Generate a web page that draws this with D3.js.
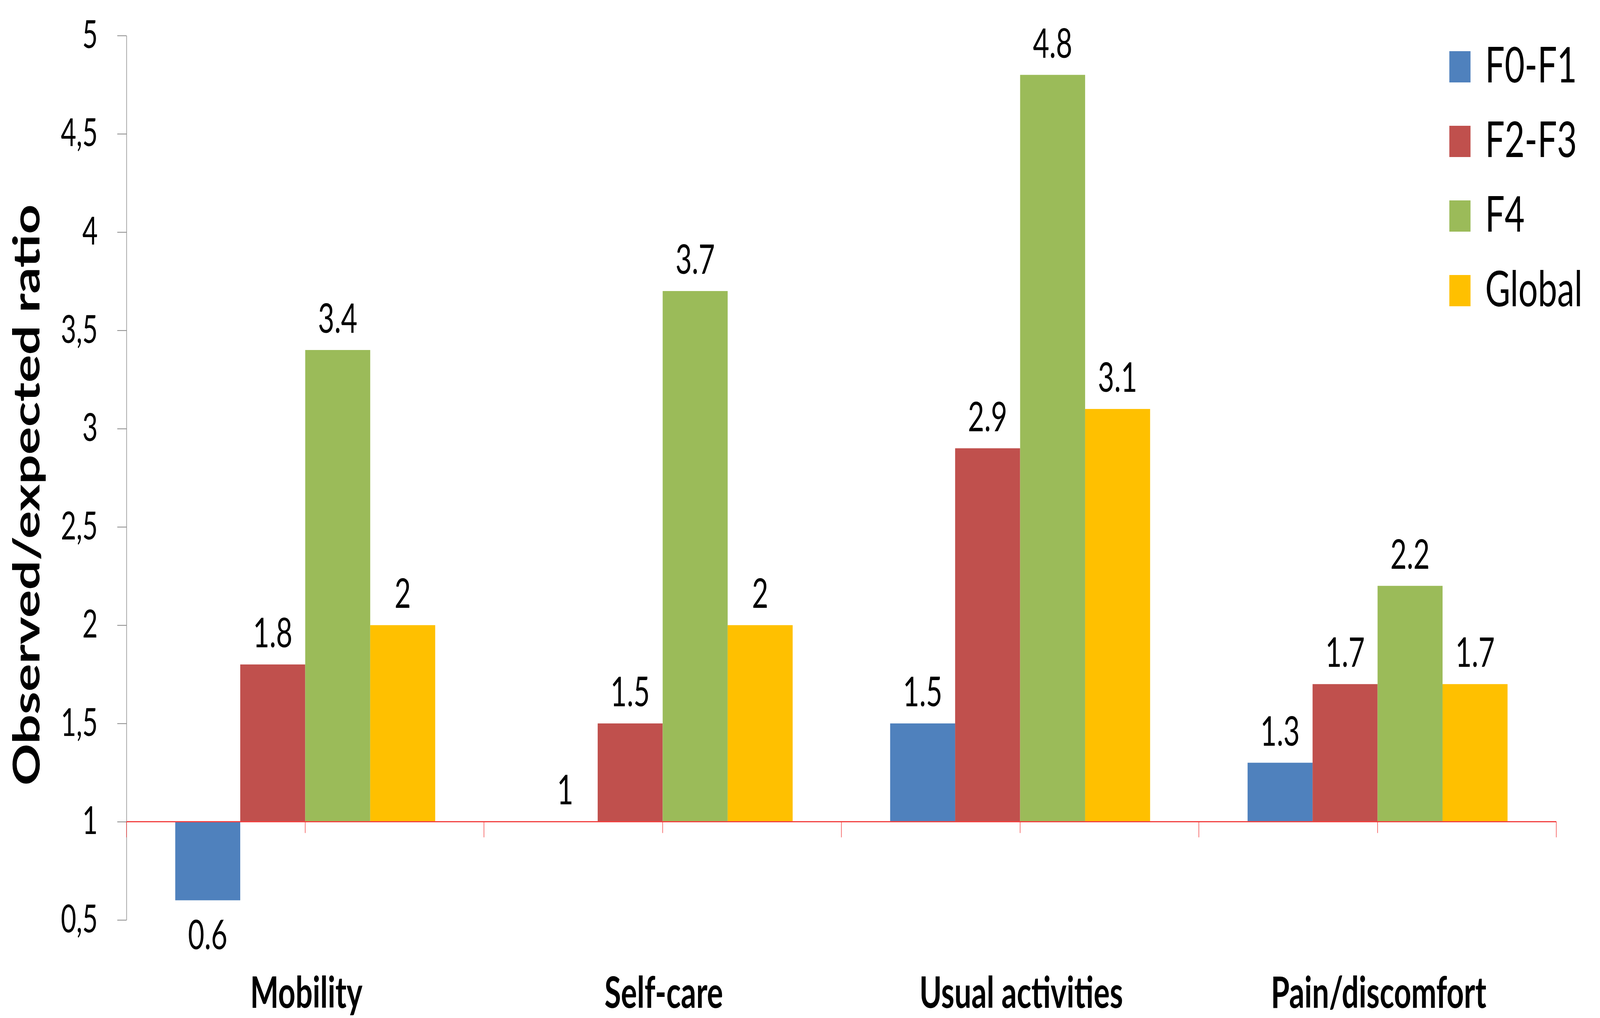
<!DOCTYPE html>
<html>
<head>
<meta charset="utf-8">
<script src="https://cdn.jsdelivr.net/npm/d3@7"></script>
<style>
  html, body { margin: 0; padding: 0; background: #fff; overflow: hidden; }
  svg { display: block; }
</style>
</head>
<body>
<div id="chart"></div>
<script>
// chart data
const categories = ["Mobility", "Self-care", "Usual activities", "Pain/discomfort"];
const seriesNames = ["F0-F1", "F2-F3", "F4", "Global"];
const seriesColors = ["#4F81BD", "#C0504D", "#9BBB59", "#FFC000"];
const f0f1 = [0.6, 1, 1.5, 1.3];
const f2f3 = [1.8, 1.5, 2.9, 1.7];
const f4 = [3.4, 3.7, 4.8, 2.2];
const globalVals = [2, 2, 3.1, 1.7];
const yTicks = [0.5, 1, 1.5, 2, 2.5, 3, 3.5, 4, 4.5, 5];
const yTickLabels = ["0,5", "1", "1,5", "2", "2,5", "3", "3,5", "4", "4,5", "5"];
const baseValue = 1;

const seriesValues = [f0f1, f2f3, f4, globalVals];
const fontFam = "Lato, 'Open Sans', sans-serif";

const W = 5894, H = 2606;
// drawn in a fixed 5894x2606 coordinate space, stretched to the window
const svg = d3.select("#chart").append("svg")
    .attr("viewBox", "0 0 " + W + " " + H)
    .attr("preserveAspectRatio", "none")
    .style("width", "100vw")
    .style("height", "100vh");

const plot = {left: 466, right: 5733, top: 91, bottom: 2355};

const x = d3.scaleBand().domain(categories).range([plot.left, plot.right]).padding(0);
const xSub = d3.scaleBand().domain(seriesNames).range([0, x.bandwidth()])
    .paddingInner(0).paddingOuter(0.75);
const y = d3.scaleLinear().domain([0.5, 5]).range([plot.bottom, plot.top]);

// y axis
const yAxis = svg.append("g")
    .attr("transform", "translate(" + plot.left + ",0)")
    .call(d3.axisLeft(y)
        .tickValues(yTicks)
        .tickFormat((d, i) => yTickLabels[i])
        .tickSize(34)
        .tickSizeOuter(0)
        .tickPadding(72));
yAxis.select(".domain").attr("stroke", "#868686").attr("stroke-width", 2);
yAxis.selectAll(".tick line").attr("stroke", "#868686").attr("stroke-width", 2);
yAxis.selectAll(".tick text")
    .attr("fill", "#000")
    .style("font-family", fontFam)
    .style("font-size", "98px");

// bars
const rows = [];
categories.forEach((c, ci) => {
    seriesNames.forEach((s, si) => {
        rows.push({cat: c, series: s, value: seriesValues[si][ci], color: seriesColors[si]});
    });
});

const bars = svg.append("g");
bars.selectAll("rect")
    .data(rows)
    .join("rect")
    .attr("x", d => x(d.cat) + xSub(d.series))
    .attr("width", xSub.bandwidth())
    .attr("y", d => y(Math.max(d.value, baseValue)))
    .attr("height", d => Math.abs(y(d.value) - y(baseValue)))
    .attr("fill", d => d.color);

// x axis at value 1 (red)
const yBase = y(baseValue);
const xAxis = svg.append("g");
xAxis.append("line")
    .attr("x1", plot.left).attr("x2", plot.right)
    .attr("y1", yBase).attr("y2", yBase)
    .attr("stroke", "#f24040").attr("stroke-width", 3);
const bounds = categories.map(c => x(c)).concat([plot.right]);
xAxis.selectAll(".bound")
    .data(bounds)
    .join("line")
    .attr("class", "bound")
    .attr("x1", d => d).attr("x2", d => d)
    .attr("y1", yBase).attr("y2", yBase + 40)
    .attr("stroke", "#f24040").attr("stroke-width", 2);
xAxis.selectAll(".mid")
    .data(categories)
    .join("line")
    .attr("class", "mid")
    .attr("x1", d => x(d) + x.bandwidth() / 2).attr("x2", d => x(d) + x.bandwidth() / 2)
    .attr("y1", yBase).attr("y2", yBase + 29)
    .attr("stroke", "#f24040").attr("stroke-width", 2);

// category labels
svg.append("g").selectAll("text")
    .data(categories)
    .join("text")
    .attr("x", d => x(d) + x.bandwidth() / 2 + 4)
    .attr("y", 2580)
    .attr("text-anchor", "middle")
    .style("font-family", fontFam)
    .style("font-weight", "bold")
    .style("font-size", "111px")
    .text(d => d);

// data labels
svg.append("g").selectAll("text")
    .data(rows)
    .join("text")
    .attr("x", d => x(d.cat) + xSub(d.series) + xSub.bandwidth() / 2)
    .attr("y", d => d.value < baseValue ? y(d.value) + 125 : y(d.value) - 44)
    .attr("text-anchor", "middle")
    .style("font-family", fontFam)
    .style("font-size", "104px")
    .text(d => String(d.value));

// y axis title
svg.append("text")
    .attr("transform", "translate(145,1267) rotate(-90)")
    .attr("text-anchor", "middle")
    .attr("textLength", 1488)
    .attr("lengthAdjust", "spacingAndGlyphs")
    .style("font-family", fontFam)
    .style("font-weight", "bold")
    .style("font-size", "134px")
    .text("Observed/expected ratio");

// legend
const legend = svg.append("g").attr("transform", "translate(5339,131)");
const item = legend.selectAll("g")
    .data(seriesNames)
    .join("g")
    .attr("transform", (d, i) => "translate(0," + (i * 191) + ")");
item.append("rect")
    .attr("width", 78)
    .attr("height", 80)
    .attr("fill", (d, i) => seriesColors[i]);
item.append("text")
    .attr("x", 132)
    .attr("y", 80)
    .style("font-family", fontFam)
    .style("font-size", "127px")
    .text(d => d);
</script>
</body>
</html>
